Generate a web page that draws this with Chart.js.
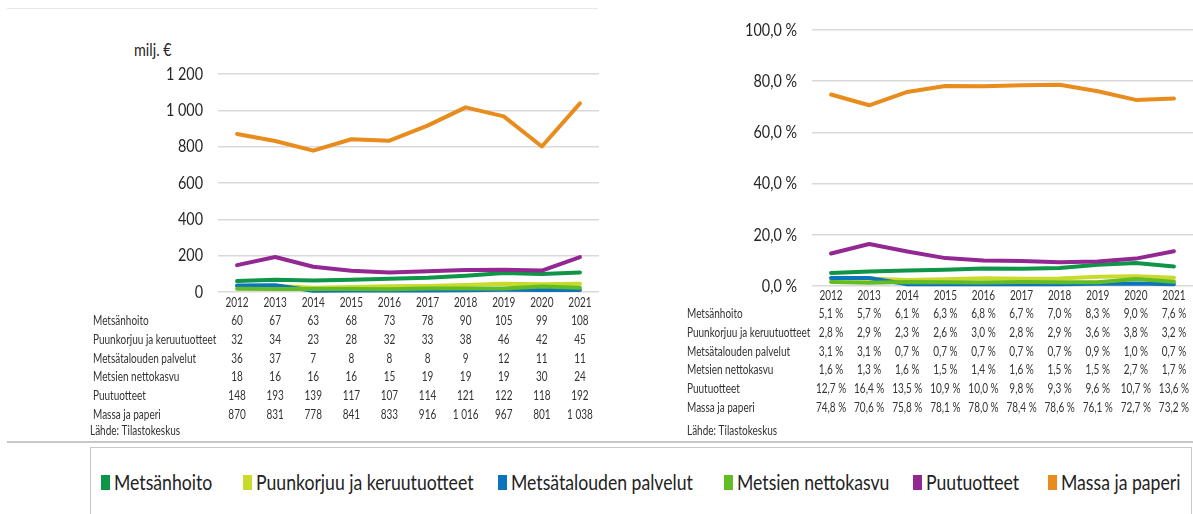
<!DOCTYPE html>
<html>
<head>
<meta charset="utf-8">
<script src="https://cdn.jsdelivr.net/npm/chart.js@4"></script>
<style>
  body { margin: 0; background: #fff; width: 1193px; height: 514px; overflow: hidden; position: relative;
         font-family: Lato, 'Open Sans', sans-serif; color: #262626; }
  canvas { position: absolute; top: 0; }
  #euro { left: 0; }
  #osuus { left: 600px; }
  .yksikko { position: absolute; left: 134px; top: 38px; font-size: 18px; transform: scaleX(0.8); transform-origin: left; }
  .ylaviiva { position: absolute; left: 7px; top: 8px; width: 591px; height: 1px; background: #e8e8e8; }
  .erotin { position: absolute; left: 7px; top: 441px; width: 1186px; height: 2px; background: #c8c8c8; }
  .selite { position: absolute; left: 90px; top: 447px; width: 1102px; height: 80px; border: 1px solid #c8c8c8; box-sizing: border-box; }
  .kohta { position: absolute; top: 469px; height: 26px; white-space: nowrap; }
  .kohta i { position: absolute; left: 0; top: 6px; width: 9px; height: 15px; }
  .kohta span { position: absolute; left: 13px; top: 0; font-size: 21.5px; line-height: 26px; color: #222;
                transform: scaleX(0.82); transform-origin: left; }
</style>
</head>
<body>
<div class="ylaviiva"></div>
<div class="yksikko">milj. €</div>
<canvas id="euro" width="600" height="440"></canvas>
<canvas id="osuus" width="593" height="440"></canvas>
<div class="erotin"></div>
<div class="selite"></div>
<div id="selitteet"></div>
<script>
const vuodet = ["2012", "2013", "2014", "2015", "2016", "2017", "2018", "2019", "2020", "2021"];
const sarjat = ["Metsänhoito", "Puunkorjuu ja keruutuotteet", "Metsätalouden palvelut",
                "Metsien nettokasvu", "Puutuotteet", "Massa ja paperi"];
const varit = ["#0e9547", "#c8da2b", "#0b74bc", "#63bc25", "#932893", "#e88c1e"];

// milj. €
const metsanhoito = [60, 67, 63, 68, 73, 78, 90, 105, 99, 108];
const puunkorjuu = [32, 34, 23, 28, 32, 33, 38, 46, 42, 45];
const palvelut = [36, 37, 7, 8, 8, 8, 9, 12, 11, 11];
const nettokasvu = [18, 16, 16, 16, 15, 19, 19, 19, 30, 24];
const puutuotteet = [148, 193, 139, 117, 107, 114, 121, 122, 118, 192];
const massa = [870, 831, 778, 841, 833, 916, 1016, 967, 801, 1038];

// osuus, %
const metsanhoitoPros = [5.1, 5.7, 6.1, 6.3, 6.8, 6.7, 7.0, 8.3, 9.0, 7.6];
const puunkorjuuPros = [2.8, 2.9, 2.3, 2.6, 3.0, 2.8, 2.9, 3.6, 3.8, 3.2];
const palvelutPros = [3.1, 3.1, 0.7, 0.7, 0.7, 0.7, 0.7, 0.9, 1.0, 0.7];
const nettokasvuPros = [1.6, 1.3, 1.6, 1.5, 1.4, 1.6, 1.5, 1.5, 2.7, 1.7];
const puutuotteetPros = [12.7, 16.4, 13.5, 10.9, 10.0, 9.8, 9.3, 9.6, 10.7, 13.6];
const massaPros = [74.8, 70.6, 75.8, 78.1, 78.0, 78.4, 78.6, 76.1, 72.7, 73.2];

const euroarvot = [metsanhoito, puunkorjuu, palvelut, nettokasvu, puutuotteet, massa];
const prosarvot = [metsanhoitoPros, puunkorjuuPros, palvelutPros, nettokasvuPros, puutuotteetPros, massaPros];

const FONTTI = "Lato, 'Open Sans', sans-serif";
const KAPEUS = 0.8;   // kapea kirjasin: teksti puristetaan vaakasuunnassa

function tuhannet(v) {
  return String(v).replace(/\B(?=(\d{3})+(?!\d))/g, " ");
}
function prosentti(v) {
  return v.toFixed(1).replace(".", ",") + " %";
}

function kapea(ctx, teksti, x, y, tasaus, koko, vari) {
  ctx.save();
  ctx.font = koko + "px " + FONTTI;
  ctx.fillStyle = vari;
  ctx.textAlign = tasaus;
  ctx.textBaseline = "middle";
  ctx.translate(x, y);
  ctx.scale(KAPEUS, 1);
  ctx.fillText(teksti, 0, 0);
  ctx.restore();
}

// akselien tekstit ja arvotaulukko kaavion alle, sarakkeet x-akselin mukaan
const tekstit = {
  id: "tekstit",
  afterDraw(chart, args, o) {
    const ctx = chart.ctx;
    const x = chart.scales.x;
    const y = chart.scales.y;
    y.ticks.forEach(t => kapea(ctx, o.muoto(t.value), chart.chartArea.left - 15, y.getPixelForValue(t.value), "right", 18, "#262626"));
    vuodet.forEach((v, i) => kapea(ctx, v, x.getPixelForValue(i), o.vuosiY, "center", 12.5, "#333"));
    o.rivit.forEach((rivi, r) => {
      const ry = o.ekaRivi + r * o.riviVali;
      kapea(ctx, sarjat[r], o.otsikkoX, ry, "left", 12.5, "#333");
      rivi.forEach((v, i) => kapea(ctx, o.muoto(v), x.getPixelForValue(i), ry, "center", 12.5, "#333"));
    });
    kapea(ctx, "Lähde: Tilastokeskus", o.lahdeX, o.lahdeY, "left", 12.5, "#333");
  }
};

function aineisto(arvot) {
  return arvot.map((d, i) => ({
    label: sarjat[i],
    data: d,
    borderColor: varit[i],
    backgroundColor: varit[i],
    borderWidth: 4,
    pointRadius: 0,
    tension: 0,
    borderCapStyle: "round",
    borderJoinStyle: "round",
    clip: false,
    order: 6 - i
  }));
}

function kaavio(id, arvot, a) {
  return new Chart(id, {
    type: "line",
    data: { labels: vuodet, datasets: aineisto(arvot) },
    plugins: [tekstit],
    options: {
      responsive: false,
      animation: false,
      devicePixelRatio: 1,
      layout: { padding: { top: a.ylaraja, right: a.oikea, left: 0, bottom: 0 } },
      plugins: {
        legend: { display: false },
        tooltip: { enabled: false },
        tekstit: a.tekstit
      },
      scales: {
        x: {
          offset: true,
          grid: { display: false, drawTicks: false },
          border: { display: false },
          ticks: { display: false },
          afterFit: s => { s.height = a.alaosa; }
        },
        y: {
          min: 0,
          max: a.max,
          grid: { color: "#d9d9d9", lineWidth: 1.5, drawTicks: false },
          border: { display: false },
          ticks: { stepSize: a.askel, display: false },
          afterFit: s => { s.width = a.vasen; }
        }
      }
    }
  });
}

kaavio("euro", euroarvot, {
  ylaraja: 74, oikea: 1, vasen: 218, alaosa: 440 - 292, max: 1200, askel: 200,
  tekstit: { rivit: euroarvot, muoto: tuhannet, vuosiY: 303, ekaRivi: 321, riviVali: 18.8, otsikkoX: 93, lahdeX: 90, lahdeY: 431 }
});

kaavio("osuus", prosarvot, {
  ylaraja: 30, oikea: 0, vasen: 212, alaosa: 440 - 286, max: 100, askel: 20,
  tekstit: { rivit: prosarvot, muoto: prosentti, vuosiY: 296, ekaRivi: 314, riviVali: 18.8, otsikkoX: 87, lahdeX: 87, lahdeY: 431 }
});

// selite alareunaan
const paikat = [101, 243, 498, 724, 913, 1048];
const selitteet = document.getElementById("selitteet");
sarjat.forEach((nimi, i) => {
  const d = document.createElement("div");
  d.className = "kohta";
  d.style.left = paikat[i] + "px";
  d.innerHTML = '<i style="background:' + varit[i] + '"></i><span>' + nimi + "</span>";
  selitteet.appendChild(d);
});
</script>
</body>
</html>
